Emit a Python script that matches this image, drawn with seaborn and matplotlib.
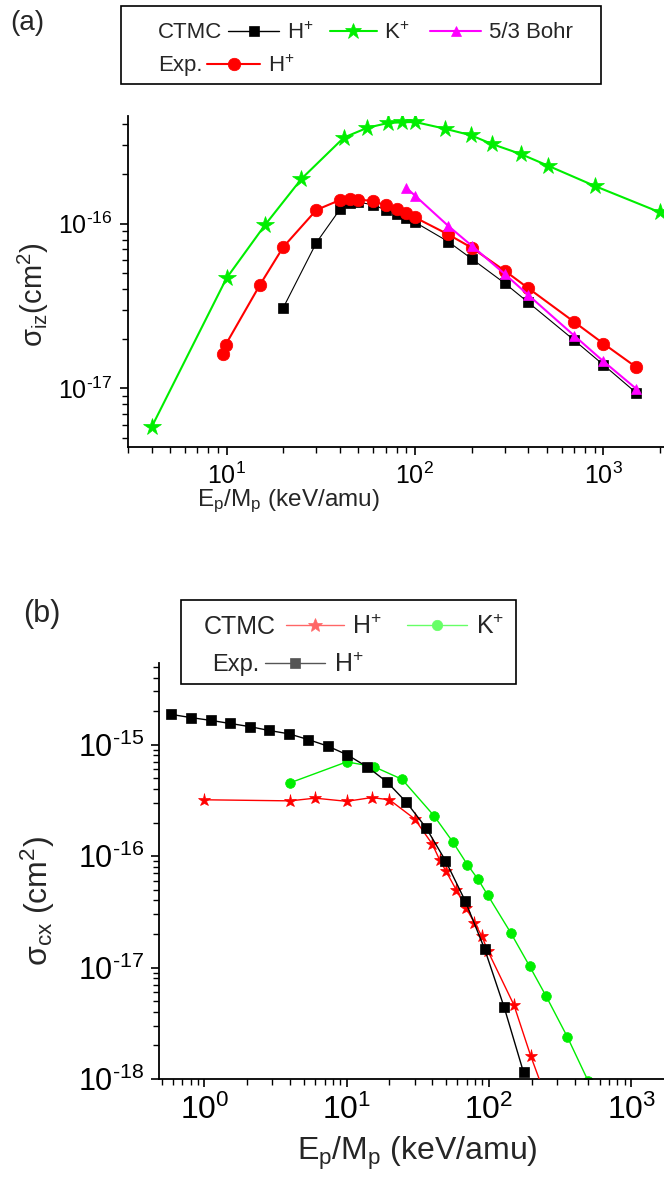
import numpy as np
import pandas as pd
import matplotlib
matplotlib.use('Agg')
import matplotlib.pyplot as plt
import seaborn as sns
from matplotlib.lines import Line2D
from matplotlib.patches import Rectangle
from matplotlib.ticker import FuncFormatter, LogLocator, FixedLocator

# ---------------- data: panel (a) ionization ----------------
e_iz_ctmc_h = [20, 30, 40, 45, 50, 60, 70, 80, 90, 100, 150, 200, 300, 400, 700, 1000, 1500]
s_iz_ctmc_h = [3.08e-17, 7.66e-17, 1.22e-16, 1.33e-16, 1.35e-16, 1.30e-16, 1.21e-16, 1.15e-16,
               1.08e-16, 1.02e-16, 7.78e-17, 6.12e-17, 4.34e-17, 3.32e-17, 1.96e-17, 1.39e-17, 9.35e-18]

e_iz_ctmc_k = [4, 10, 16, 25, 42, 56, 72, 85, 100, 144, 198, 257, 366, 507, 903, 2000]
s_iz_ctmc_k = [5.8e-18, 4.66e-17, 9.8e-17, 1.87e-16, 3.33e-16, 3.82e-16, 4.08e-16, 4.12e-16,
               4.14e-16, 3.77e-16, 3.44e-16, 3.04e-16, 2.64e-16, 2.25e-16, 1.69e-16, 1.17e-16]

e_iz_exp_h = [9.6, 9.9, 15, 20, 30, 40, 45, 50, 60, 70, 80, 90, 100, 150, 200, 300, 400, 700, 1000, 1500]
s_iz_exp_h = [1.61e-17, 1.84e-17, 4.22e-17, 7.2e-17, 1.21e-16, 1.39e-16, 1.41e-16, 1.40e-16, 1.37e-16,
              1.29e-16, 1.23e-16, 1.16e-16, 1.09e-16, 8.6e-17, 7.14e-17, 5.17e-17, 4.05e-17, 2.53e-17,
              1.87e-17, 1.34e-17]

e_iz_bohr = [90, 100, 150, 200, 300, 400, 700, 1000, 1500]
s_iz_bohr = [1.65e-16, 1.48e-16, 9.7e-17, 7.35e-17, 4.94e-17, 3.68e-17, 2.09e-17, 1.46e-17, 9.9e-18]

# ---------------- data: panel (b) charge exchange ----------------
e_cx_exp_h = [0.58, 0.80, 1.11, 1.51, 2.09, 2.85, 3.93, 5.38, 7.37, 10.1, 14.0, 19.2, 26.3, 36.2,
              49.5, 68.2, 93.4, 128, 175]
s_cx_exp_h = [1.87e-15, 1.75e-15, 1.65e-15, 1.55e-15, 1.45e-15, 1.34e-15, 1.25e-15, 1.11e-15,
              9.7e-16, 8.1e-16, 6.3e-16, 4.63e-16, 3.04e-16, 1.79e-16, 9.1e-17, 3.95e-17, 1.46e-17,
              4.4e-18, 1.15e-18]

e_cx_ctmc_h = [1, 4, 6, 10, 15, 20, 30, 40, 45, 50, 59, 69, 79, 89, 98, 150, 197, 250]
s_cx_ctmc_h = [3.2e-16, 3.13e-16, 3.31e-16, 3.1e-16, 3.35e-16, 3.2e-16, 2.16e-16, 1.28e-16, 9.27e-17,
               7.29e-17, 4.96e-17, 3.42e-17, 2.53e-17, 1.92e-17, 1.42e-17, 4.6e-18, 1.6e-18, 7e-19]

e_cx_ctmc_k = [4, 10, 15.5, 24.5, 41, 55.5, 70.5, 84, 98, 142, 193, 253, 355, 500]
s_cx_ctmc_k = [4.54e-16, 7.0e-16, 6.35e-16, 4.89e-16, 2.31e-16, 1.35e-16, 8.4e-17, 6.17e-17, 4.47e-17,
               2.06e-17, 1.03e-17, 5.5e-18, 2.4e-18, 9.5e-19]

# ---------------- major tick values ----------------
xticks_a = [1e1, 1e2, 1e3]
yticks_a = [1e-17, 1e-16]
xticks_b = [1e0, 1e1, 1e2, 1e3]
yticks_b = [1e-18, 1e-17, 1e-16, 1e-15]

# ---------------- style ----------------
sns.set_theme(style='ticks')
plt.rcParams['font.family'] = ['Liberation Sans', 'DejaVu Sans']
plt.rcParams['mathtext.fontset'] = 'custom'
plt.rcParams['mathtext.rm'] = 'Liberation Sans'
plt.rcParams['mathtext.it'] = 'Liberation Sans:italic'
plt.rcParams['mathtext.bf'] = 'Liberation Sans:bold'
plt.rcParams['mathtext.default'] = 'regular'
plt.rcParams['axes.unicode_minus'] = False

GREEN = '#00ee00'
RED = '#ff0000'
MAG = '#ff00ff'
BLACK = '#000000'

W, H = 664, 1180
fig = plt.figure(figsize=(W / 100, H / 100), dpi=100)


def rect(l, t, r, b):
    return [l / W, 1 - b / H, (r - l) / W, (b - t) / H]


def px(x, y):
    return x / W, 1 - y / H


axA = fig.add_axes(rect(128, 116, 664, 447))
axB = fig.add_axes(rect(159, 663, 664, 1079))

for ax in (axA, axB):
    ax.set_xscale('log')
    ax.set_yscale('log')


def draw(ax, x, y, color, marker, ms, lw, z):
    df = pd.DataFrame({'x': x, 'y': y})
    sns.lineplot(data=df, x='x', y='y', ax=ax, color=color, marker=marker, markersize=ms,
                 linewidth=lw, markeredgecolor=color, markeredgewidth=0.5, sort=False,
                 estimator=None, legend=False, zorder=z)


# panel (a)
draw(axA, e_iz_ctmc_k, s_iz_ctmc_k, GREEN, '*', 13, 1.5, 2)
draw(axA, e_iz_ctmc_h, s_iz_ctmc_h, BLACK, 's', 7.5, 0.8, 3)
draw(axA, e_iz_exp_h, s_iz_exp_h, RED, 'o', 9, 1.5, 4)
draw(axA, e_iz_bohr, s_iz_bohr, MAG, '^', 7.5, 1.5, 5)

# panel (b)
draw(axB, e_cx_ctmc_k, s_cx_ctmc_k, GREEN, 'o', 7, 1.0, 2)
draw(axB, e_cx_ctmc_h, s_cx_ctmc_h, RED, '*', 9.5, 1.0, 3)
draw(axB, e_cx_exp_h, s_cx_exp_h, BLACK, 's', 6.5, 1.0, 4)


def pow_fmt(v, pos):
    if v <= 0:
        return ''
    e = int(round(np.log10(v)))
    if e < 0:
        return r'$10^{\text{-%d}}$' % (-e)
    return r'$10^{%d}$' % e


for ax, xt, yt, fsx, fsy in ((axA, xticks_a, yticks_a, 18, 18), (axB, xticks_b, yticks_b, 23, 22)):
    sns.despine(ax=ax)
    ax.set_xlabel('')
    ax.set_ylabel('')
    ax.xaxis.label.set_visible(False)
    ax.yaxis.label.set_visible(False)
    for axis, ticks in ((ax.xaxis, xt), (ax.yaxis, yt)):
        axis.set_major_locator(FixedLocator(ticks))
        axis.set_minor_locator(LogLocator(base=10, subs=np.arange(2, 10), numticks=20))
        axis.set_major_formatter(FuncFormatter(pow_fmt))
        axis.set_minor_formatter(FuncFormatter(lambda v, p: ''))
    for s in ('left', 'bottom'):
        ax.spines[s].set_linewidth(1.3)
        ax.spines[s].set_color('black')
    ax.tick_params(which='major', direction='out', length=6, width=1.2, colors='black', pad=5)
    ax.tick_params(which='minor', direction='out', length=4, width=1.0, colors='black')
    ax.tick_params(axis='x', labelsize=fsx)
    ax.tick_params(axis='y', labelsize=fsy)
    ax.grid(False)

axA.set_xlim(3, 2100)
axA.set_ylim(4.4e-18, 4.5e-16)
axB.set_xlim(0.48, 1700)
axB.set_ylim(1e-18, 5.4e-15)

# axis titles
fig.text(*px(288, 501), r'E$_p$/M$_p$ (keV/amu)', fontsize=17.5, ha='center', va='center')
fig.text(*px(33, 295), 'σ$_{iz}$(cm$^2$)', fontsize=21, ha='center', va='center', rotation=90)
fig.text(*px(417, 1153), r'E$_p$/M$_p$ (keV/amu)', fontsize=23, ha='center', va='center')
fig.text(*px(38, 901), 'σ$_{cx}$ (cm$^2$)', fontsize=23, ha='center', va='center', rotation=90)

fig.text(*px(27, 23), '(a)', fontsize=20, ha='center', va='center')
fig.text(*px(42, 614), '(b)', fontsize=22, ha='center', va='center')


# ---------------- legends ----------------
def handle(color, marker, ms, lw):
    return Line2D([], [], color=color, marker=marker, markersize=ms, linewidth=lw,
                  markeredgecolor=color, markeredgewidth=0.5)


def entry(h, label, x, y, fs, hl):
    leg = fig.legend([h], [label], loc='center left', bbox_to_anchor=px(x, y),
                     bbox_transform=fig.transFigure, frameon=False, fontsize=fs,
                     handlelength=hl, handletextpad=0.35, borderpad=0, borderaxespad=0,
                     numpoints=1)
    return leg


# legend (a)
fig.patches.append(Rectangle(px(121, 84), (601 - 121) / W, (84 - 6) / H, transform=fig.transFigure,
                             fill=False, edgecolor='black', linewidth=1.2))
fig.text(*px(158, 33), 'CTMC', fontsize=16, ha='left', va='center')
fig.text(*px(158, 66), 'Exp.', fontsize=16, ha='left', va='center')
entry(handle(BLACK, 's', 7.5, 1.0), 'H$^{+}$', 228, 33, 16, 2.3)
entry(handle(GREEN, '*', 12, 1.5), 'K$^{+}$', 330, 33, 16, 2.1)
entry(handle(MAG, '^', 7.5, 1.5), '5/3 Bohr', 430, 33, 16, 2.3)
entry(handle(RED, 'o', 9, 1.5), 'H$^{+}$', 207, 66, 16, 2.4)

# legend (b)
fig.patches.append(Rectangle(px(181, 684), (516 - 181) / W, (684 - 600) / H, transform=fig.transFigure,
                             fill=False, edgecolor='black', linewidth=1.2, zorder=5))
fig.text(*px(204, 627), 'CTMC', fontsize=18, ha='left', va='center')
fig.text(*px(212, 665), 'Exp.', fontsize=17, ha='left', va='center')
entry(handle('#ff6666', '*', 10, 1.0), 'H$^{+}$', 286, 627, 18, 2.3)
entry(handle('#66ff66', 'o', 7.5, 1.0), 'K$^{+}$', 407, 627, 18, 2.4)
entry(handle('#555555', 's', 6.5, 1.0), 'H$^{+}$', 265, 665, 18, 2.4)

fig.savefig('out.png', dpi=100)
